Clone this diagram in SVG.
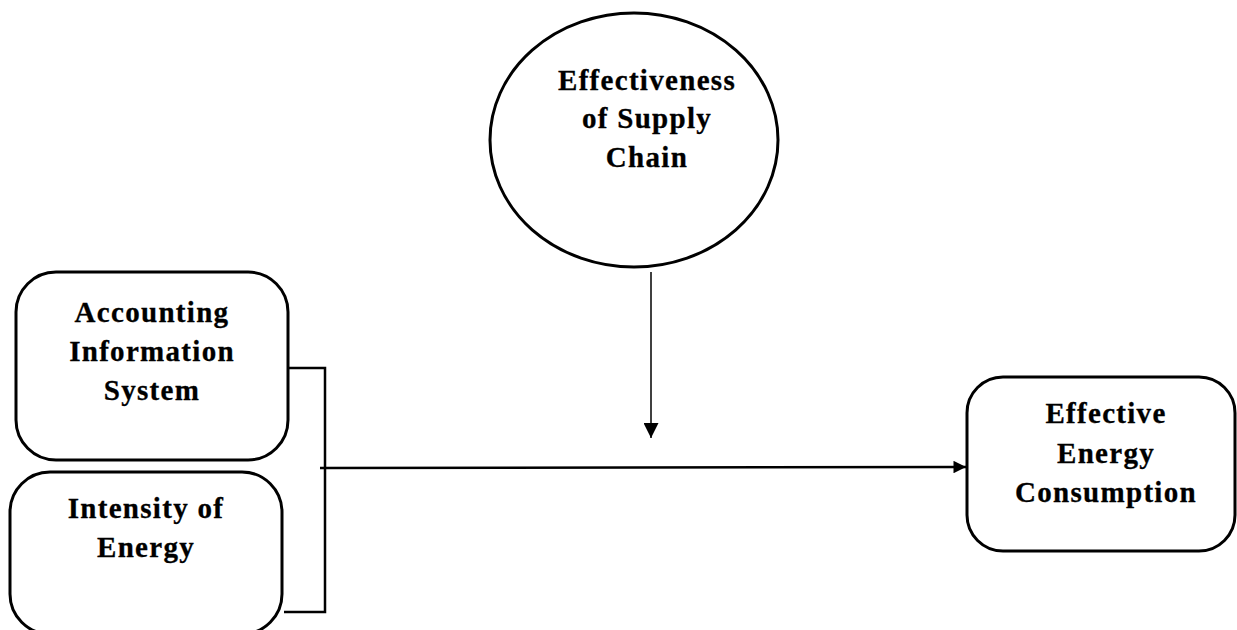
<svg xmlns="http://www.w3.org/2000/svg" width="1237" height="630" viewBox="0 0 1237 630">
<style>
.box{fill:#fff;stroke:#000;stroke-width:3}
.t{font-family:"Liberation Serif","Times New Roman",serif;font-weight:bold;font-size:29px;letter-spacing:1.3px;text-anchor:middle;fill:#000;stroke:#000;stroke-width:0.3}
.ln{fill:none;stroke:#000;stroke-width:2.5}
</style>
<defs>
<marker id="ah" viewBox="0 0 10 10" refX="10" refY="5" markerWidth="5" markerHeight="5" orient="auto" markerUnits="strokeWidth">
<path d="M0,0L10,5L0,10z" fill="#000"/>
</marker>
<marker id="ah2" viewBox="0 0 10 10" refX="10" refY="5" markerWidth="10" markerHeight="10" orient="auto" markerUnits="strokeWidth">
<path d="M0,0L10,5L0,10z" fill="#000"/>
</marker>
</defs>
<rect width="1237" height="630" fill="#fff"/>
<g id="ais">
<rect class="box" x="16" y="272" width="272" height="188" rx="40"/>
<text class="t" x="152" y="322">Accounting</text>
<text class="t" x="152" y="361">Information</text>
<text class="t" x="152" y="400">System</text>
</g>
<g id="intensity">
<rect class="box" x="10" y="472" width="272" height="162" rx="40"/>
<text class="t" x="146" y="518">Intensity of</text>
<text class="t" x="146" y="557">Energy</text>
</g>
<g id="supply">
<ellipse class="box" cx="634" cy="140" rx="144" ry="127"/>
<text class="t" x="647" y="90">Effectiveness</text>
<text class="t" x="647" y="128">of Supply</text>
<text class="t" x="647" y="167">Chain</text>
</g>
<g id="eec">
<rect class="box" x="967" y="377" width="268" height="174" rx="36"/>
<text class="t" x="1106" y="423">Effective</text>
<text class="t" x="1106" y="463">Energy</text>
<text class="t" x="1106" y="502">Consumption</text>
</g>
<g id="connectors">
<path class="ln" d="M288,368H325V612H284"/>
<line class="ln" x1="320" y1="468" x2="966" y2="467" marker-end="url(#ah)"/>
<line x1="651" y1="272" x2="651" y2="438" stroke="#000" stroke-width="1.5" marker-end="url(#ah2)"/>
</g>
</svg>
